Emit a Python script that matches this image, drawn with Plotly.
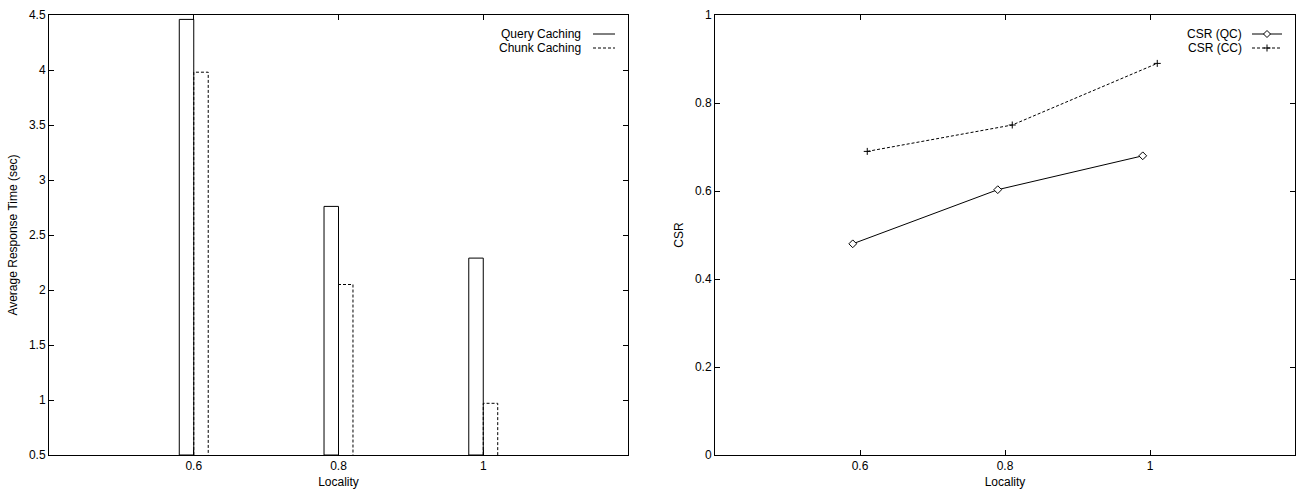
import plotly.graph_objects as go

# ---- data ----
localities = [0.6, 0.8, 1.0]
locality_labels = ["0.6", "0.8", "1"]
query_caching = [4.46, 2.76, 2.29]
chunk_caching = [3.98, 2.05, 0.97]
csr_qc = [0.48, 0.603, 0.68]
csr_cc = [0.69, 0.75, 0.89]

# ---- layout constants ----
W, H = 1296, 496
ML, MR, MT, MB = 49, 1, 15, 41
PW, PH = W - ML - MR, H - MT - MB
BAR_W = 0.02
SERIES_SHIFT = 0.01
Y1_MIN, Y1_MAX = 0.5, 4.5
FONT = "Liberation Sans, Arial, sans-serif"
DASH = "3px,2px"


def px(x):
    return (x - ML) / PW


def py(y):
    return (H - MB - y) / PH


fig = go.Figure()

# Left: bars
fig.add_trace(go.Bar(x=localities, y=chunk_caching, width=BAR_W, offset=0,
                     base=Y1_MIN, marker=dict(color="white", line=dict(width=0)),
                     name="Chunk Caching", showlegend=False, xaxis="x", yaxis="y",
                     hoverinfo="x+y"))
fig.add_trace(go.Bar(x=localities, y=[v - Y1_MIN for v in query_caching], width=BAR_W,
                     offset=-BAR_W, base=Y1_MIN,
                     marker=dict(color="white", line=dict(color="black", width=1)),
                     name="Query Caching", showlegend=False, xaxis="x", yaxis="y"))
# dashed outline of chunk bars (same data)
ox, oy = [], []
for x, v in zip(localities, chunk_caching):
    ox += [x, x, x + BAR_W, x + BAR_W, None]
    oy += [Y1_MIN, v, v, Y1_MIN, None]
fig.add_trace(go.Scatter(x=ox, y=oy, mode="lines",
                         line=dict(color="black", width=1, dash=DASH),
                         showlegend=False, hoverinfo="skip", xaxis="x", yaxis="y"))

# Right: lines
fig.add_trace(go.Scatter(x=[l - SERIES_SHIFT for l in localities], y=csr_qc,
                         mode="lines+markers", name="CSR (QC)",
                         line=dict(color="black", width=1),
                         marker=dict(symbol="diamond", size=6, color="white",
                                     line=dict(color="black", width=1)),
                         showlegend=False, xaxis="x2", yaxis="y2"))
fig.add_trace(go.Scatter(x=[l + SERIES_SHIFT for l in localities], y=csr_cc,
                         mode="lines+markers", name="CSR (CC)",
                         line=dict(color="black", width=1, dash=DASH),
                         marker=dict(symbol="cross-thin", size=5, color="black",
                                     line=dict(color="black", width=1)),
                         showlegend=False, xaxis="x2", yaxis="y2"))

axis_common = dict(showline=True, linecolor="black", linewidth=1, mirror="ticks",
                   ticks="inside", ticklen=5, tickcolor="black", showgrid=False,
                   zeroline=False, tickfont=dict(family=FONT, size=12, color="black"),
                   title_font=dict(family=FONT, size=12, color="black"))

fig.update_layout(
    width=W, height=H, margin=dict(l=ML, r=MR, t=MT, b=MB),
    paper_bgcolor="white", plot_bgcolor="white", barmode="overlay",
    showlegend=False, font=dict(family=FONT, size=12, color="black"),
    xaxis=dict(domain=[0, px(628)], range=[0.4, 1.2], tickvals=localities,
               ticktext=locality_labels, title=dict(text="Locality", standoff=5),
               anchor="y", **axis_common),
    yaxis=dict(domain=[0, 1], range=[Y1_MIN, Y1_MAX], tick0=0.5, dtick=0.5,
               title=dict(text="Average Response Time (sec)", standoff=8),
               anchor="x", **axis_common),
    xaxis2=dict(domain=[px(715), 1], range=[0.4, 1.2], tickvals=localities,
                ticktext=locality_labels, title=dict(text="Locality", standoff=5),
                anchor="y2", **axis_common),
    yaxis2=dict(domain=[0, 1], range=[0, 1], tick0=0, dtick=0.2,
                title=dict(text="CSR", standoff=8), anchor="x2", **axis_common),
)

# ---- custom legends (gnuplot style: text then sample) ----
legend_rows = [
    (583, 593, 615, 34, "Query Caching", "solid", None),
    (583, 593, 615, 48, "Chunk Caching", DASH, None),
    (1244, 1252, 1282, 34, "CSR (QC)", "solid", "diamond"),
    (1244, 1252, 1282, 48, "CSR (CC)", DASH, "plus"),
]
for tx, lx0, lx1, y, label, dash, mk in legend_rows:
    fig.add_annotation(x=px(tx), y=py(y), xref="paper", yref="paper", text=label,
                       showarrow=False, xanchor="right", yanchor="middle",
                       font=dict(family=FONT, size=12, color="black"))
    fig.add_shape(type="line", xref="paper", yref="paper", x0=px(lx0), x1=px(lx1),
                  y0=py(y), y1=py(y), line=dict(color="black", width=1, dash=dash))
    if mk == "diamond":
        fig.add_shape(type="path", xref="paper", yref="paper", xsizemode="pixel",
                      ysizemode="pixel", xanchor=px((lx0 + lx1) / 2), yanchor=py(y),
                      path="M -3.5 0 L 0 3.5 L 3.5 0 L 0 -3.5 Z",
                      fillcolor="white", line=dict(color="black", width=1))
    elif mk == "plus":
        fig.add_shape(type="path", xref="paper", yref="paper", xsizemode="pixel",
                      ysizemode="pixel", xanchor=px((lx0 + lx1) / 2), yanchor=py(y),
                      path="M -3.5 0 L 3.5 0 M 0 -3.5 L 0 3.5",
                      line=dict(color="black", width=1))

fig.write_html("out.html")
